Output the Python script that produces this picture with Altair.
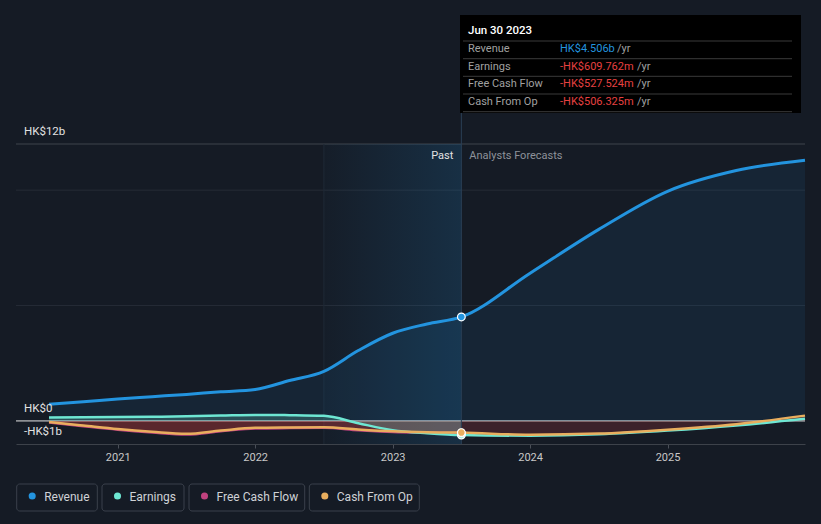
import altair as alt
import pandas as pd
import jinja2

# ---------------- data ----------------
years_past = [2020.5, 2020.75, 2021.0, 2021.25, 2021.5, 2021.75, 2022.0, 2022.25, 2022.5, 2022.75, 2023.0, 2023.25, 2023.5]
rev_past = [0.72, 0.83, 0.95, 1.05, 1.15, 1.26, 1.36, 1.75, 2.15, 3.05, 3.8, 4.2, 4.506]
earn_past = [0.15, 0.16, 0.17, 0.18, 0.2, 0.23, 0.26, 0.25, 0.22, -0.1, -0.4, -0.53, -0.61]
fcf_past = [-0.07, -0.23, -0.38, -0.5, -0.59, -0.45, -0.33, -0.31, -0.3, -0.4, -0.48, -0.51, -0.527]
cfo_past = [-0.05, -0.2, -0.35, -0.47, -0.56, -0.42, -0.3, -0.28, -0.27, -0.37, -0.45, -0.49, -0.506]

years_fc = [2023.5, 2024.0, 2024.5, 2025.0, 2025.5, 2026.0]
rev_fc = [4.506, 6.4, 8.3, 9.95, 10.85, 11.3]
earn_fc = [-0.61, -0.64, -0.58, -0.42, -0.2, 0.09]
cfo_fc = [-0.506, -0.6, -0.55, -0.38, -0.14, 0.23]

past_start, past_end = 2022.5, 2023.5
x_ticks = [2021, 2022, 2023, 2024, 2025]
y_label_values = [12, 0, -1]
y_label_texts = ["HK$12b", "HK$0", "-HK$1b"]
grid_values = [5, 10]

tip_title = "Jun 30 2023"
tip_labels = ["Revenue", "Earnings", "Free Cash Flow", "Cash From Op"]
tip_values = ["HK$4.506b", "-HK$609.762m", "-HK$527.524m", "-HK$506.325m"]
legend_labels = ["Revenue", "Earnings", "Free Cash Flow", "Cash From Op"]

# ---------------- styles ----------------
BG = "#151b25"
C_REV = "#2394df"
C_EARN = "#6ee7d3"
C_FCF = "#c0427f"
C_CFO = "#e9ae5e"
C_RED = "#e64141"
FONT = "Roboto"

X_DOMAIN = [2020.26, 2026.0]
Y_DOMAIN = [-1, 12]
W, H = 789, 300

x_axis = alt.Axis(values=x_ticks, format="d", title=None, grid=False,
                  labelColor="#c8c8c8", labelFontSize=11, labelFont=FONT,
                  tickColor="#4a4f58", tickSize=4, labelPadding=3,
                  domainColor="#3d424a", domainWidth=1)


def X(field="t"):
    return alt.X(f"{field}:Q", scale=alt.Scale(domain=X_DOMAIN, nice=False, zero=False), axis=x_axis)


def X2(field):
    return alt.X2(f"{field}:Q")


def Y(field):
    return alt.Y(f"{field}:Q", scale=alt.Scale(domain=Y_DOMAIN, nice=False, zero=False), axis=None)


past = pd.DataFrame({"t": years_past, "rev": rev_past, "earn": earn_past,
                     "fcf": fcf_past, "cfo": cfo_past, "zero": 0.0})
fc = pd.DataFrame({"t": years_fc, "rev": rev_fc, "earn": earn_fc, "cfo": cfo_fc, "zero": 0.0})
full = pd.concat([past.drop(columns=["fcf"]), fc.iloc[1:]], ignore_index=True)

layers = []

# gridlines
grid_df = pd.DataFrame({"v": grid_values})
layers.append(alt.Chart(grid_df).mark_rule(color="#262c36", strokeWidth=1).encode(
    y=Y("v"), x=alt.value(0), x2=alt.value(W)))
layers.append(alt.Chart(pd.DataFrame({"v": [12]})).mark_rule(color="#3f444d", strokeWidth=1).encode(
    y=Y("v"), x=alt.value(0), x2=alt.value(W)))

# past shaded region
region = pd.DataFrame({"a": [past_start], "b": [past_end]})
grad = alt.LinearGradient(gradient="linear", x1=0, x2=1, y1=0, y2=0,
                          stops=[alt.GradientStop(color="rgba(35,148,223,0.02)", offset=0),
                                 alt.GradientStop(color="rgba(35,148,223,0.17)", offset=1)])
layers.append(alt.Chart(region).mark_rect(color=grad).encode(
    x=X("a"), x2=X2("b"), y=alt.value(0), y2=alt.value(H)))
layers.append(alt.Chart(region).mark_rule(color="#1f2a37", strokeWidth=1).encode(
    x=X("a"), y=alt.value(0), y2=alt.value(H)))

# zero line
layers.append(alt.Chart(pd.DataFrame({"v": [0]})).mark_rule(color="#e6e6e6", strokeWidth=1).encode(
    y=Y("v"), x=alt.value(0), x2=alt.value(W)))

# areas
layers.append(alt.Chart(full).mark_area(color=C_REV, opacity=0.09, interpolate="monotone").encode(
    x=X(), y=Y("rev"), y2=alt.Y2("zero:Q")))
layers.append(alt.Chart(past).mark_area(color=C_RED, opacity=0.33, interpolate="monotone").encode(
    x=X(), y=Y("fcf"), y2=alt.Y2("zero:Q")))
layers.append(alt.Chart(fc).mark_area(color=C_RED, opacity=0.19, interpolate="monotone").encode(
    x=X(), y=Y("cfo"), y2=alt.Y2("zero:Q")))
layers.append(alt.Chart(past).mark_area(color=C_EARN, opacity=0.22, interpolate="monotone").encode(
    x=X(), y=Y("earn"), y2=alt.Y2("zero:Q")))

# vertical marker line at the latest actual
layers.append(alt.Chart(region).mark_rule(color="#2a3f56", strokeWidth=1).encode(
    x=X("b"), y=alt.value(-129), y2=alt.value(H)))

# lines
layers.append(alt.Chart(past).mark_line(color=C_FCF, strokeWidth=2.5, interpolate="monotone").encode(
    x=X(), y=Y("fcf")))
layers.append(alt.Chart(full).mark_line(color=C_EARN, strokeWidth=2.5, interpolate="monotone").encode(
    x=X(), y=Y("earn")))
layers.append(alt.Chart(full).mark_line(color=C_CFO, strokeWidth=2.5, interpolate="monotone").encode(
    x=X(), y=Y("cfo")))
layers.append(alt.Chart(full).mark_line(color=C_REV, strokeWidth=3, interpolate="monotone").encode(
    x=X(), y=Y("rev")))

# points at latest actual
last = past.iloc[[-1]]
for field, col in [("earn", C_EARN), ("fcf", C_FCF), ("cfo", C_CFO), ("rev", C_REV)]:
    layers.append(alt.Chart(last).mark_point(filled=True, fill=col, stroke="#ffffff", strokeWidth=1.2,
                                             size=60, opacity=1).encode(x=X(), y=Y(field)))

# y labels
ylab = pd.DataFrame({"v": y_label_values, "txt": y_label_texts})
layers.append(alt.Chart(ylab).mark_text(align="left", baseline="middle", dy=-12, color="#e2e2e2",
                                        fontSize=11.5, font=FONT).encode(
    x=alt.value(8), y=Y("v"), text="txt:N"))

# Past / Forecast labels
lab = pd.DataFrame({"b": [past_end], "p": ["Past"], "f": ["Analysts Forecasts"]})
layers.append(alt.Chart(lab).mark_text(align="right", baseline="middle", dx=-8, color="#e2e2e2",
                                       fontSize=11, font=FONT).encode(
    x=X("b"), y=alt.value(12), text="p:N"))
layers.append(alt.Chart(lab).mark_text(align="left", baseline="middle", dx=8, color="#8d929a",
                                       fontSize=11, font=FONT).encode(
    x=X("b"), y=alt.value(12), text="f:N"))

# tooltip box
one = pd.DataFrame({"title": [tip_title]})
layers.append(alt.Chart(one).mark_rect(color="#000000").encode(
    x=alt.value(444), x2=alt.value(785), y=alt.value(-129), y2=alt.value(-31)))
layers.append(alt.Chart(one).mark_text(align="left", baseline="middle", color="#ffffff",
                                       fontSize=11.5, font=FONT, fontWeight=500).encode(
    x=alt.value(452), y=alt.value(-113), text="title:N"))
for yy in [-103, -85.3, -67.7, -50, -32.3]:
    layers.append(alt.Chart(one).mark_rule(color="#3a3a3a", strokeWidth=1).encode(
        x=alt.value(447), x2=alt.value(776), y=alt.value(yy)))
row_y = [-95, -77.5, -60, -42.5]
yr_x = [601, 621, 621, 621]
for i, (lbl, val) in enumerate(zip(tip_labels, tip_values)):
    d = pd.DataFrame({"l": [lbl], "v": [val], "u": ["/yr"]})
    vcol = C_REV if i == 0 else C_RED
    layers.append(alt.Chart(d).mark_text(align="left", baseline="middle", color="#a0a0a0",
                                         fontSize=11, font=FONT).encode(
        x=alt.value(452), y=alt.value(row_y[i]), text="l:N"))
    layers.append(alt.Chart(d).mark_text(align="left", baseline="middle", color=vcol,
                                         fontSize=11, font=FONT).encode(
        x=alt.value(544), y=alt.value(row_y[i]), text="v:N"))
    layers.append(alt.Chart(d).mark_text(align="left", baseline="middle", color="#a0a0a0",
                                         fontSize=11, font=FONT).encode(
        x=alt.value(yr_x[i]), y=alt.value(row_y[i]), text="u:N"))

# legend
box_x = [(0.7, 81.3), (86, 168), (173, 288.7), (293.3, 403.3)]
leg_cols = [C_REV, C_EARN, C_FCF, C_CFO]
for (x0, x1), lbl, col in zip(box_x, legend_labels, leg_cols):
    d = pd.DataFrame({"l": [lbl]})
    layers.append(alt.Chart(d).mark_rect(fill=BG, stroke="#3b414c", strokeWidth=1, cornerRadius=3).encode(
        x=alt.value(x0), x2=alt.value(x1), y=alt.value(340), y2=alt.value(367)))
    layers.append(alt.Chart(d).mark_point(filled=True, color=col, size=50, opacity=1).encode(
        x=alt.value(x0 + 15.5), y=alt.value(352)))
    layers.append(alt.Chart(d).mark_text(align="left", baseline="middle", color="#cfd2d6",
                                         fontSize=12, font=FONT).encode(
        x=alt.value(x0 + 27.5), y=alt.value(352.5), text="l:N"))

chart = alt.layer(*layers).properties(
    width=W, height=H,
    autosize=alt.AutoSizeParams(type="none"),
    padding={"left": 8, "top": 136, "right": 8, "bottom": 72},
    background=BG,
).configure_view(stroke=None)

PAGE = jinja2.Template("""<!DOCTYPE html>
<html>
<head>
<meta charset="utf-8">
<style>
html, body { background: #151b25; }
#{{ output_div }}.vega-embed { width: 100%; display: flex; }
</style>
<script type="text/javascript" src="{{ base_url }}/vega@{{ vega_version }}"></script>
<script type="text/javascript" src="{{ base_url }}/vega-lite@{{ vegalite_version }}"></script>
<script type="text/javascript" src="{{ base_url }}/vega-embed@{{ vegaembed_version }}"></script>
</head>
<body>
<div id="{{ output_div }}"></div>
<script type="text/javascript">
  var spec = {{ spec }};
  var embedOpt = {{ embed_options }};
  vegaEmbed("#{{ output_div }}", spec, embedOpt).catch(function (err) {
    document.getElementById("{{ output_div }}").innerHTML = String(err);
  });
</script>
</body>
</html>""")

chart.save("out.html", embed_options={"renderer": "svg", "actions": False}, template=PAGE)
